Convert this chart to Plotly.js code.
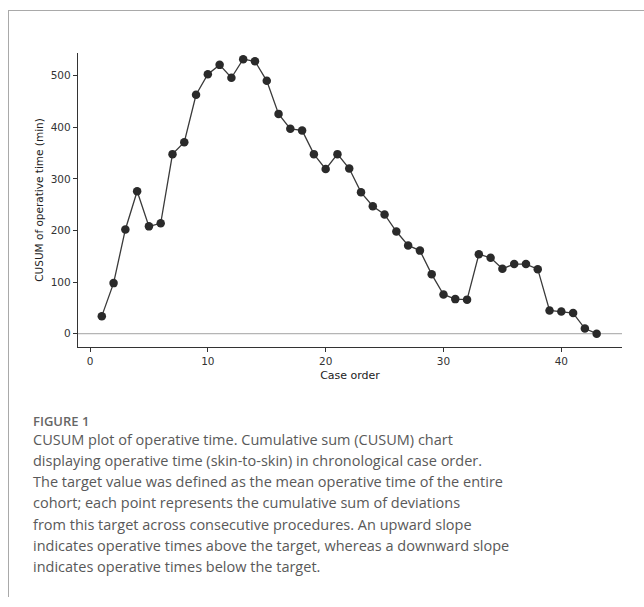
<!DOCTYPE html>
<html>
<head>
<meta charset="utf-8">
<script src="https://cdn.plot.ly/plotly-3.0.1.min.js"></script>
<style>
  html, body { margin: 0; padding: 0; background: #fff; }
  body { width: 644px; height: 607px; position: relative; overflow: hidden; }
  #frame { position: absolute; left: 8px; top: 10px; width: 640px; height: 587px;
           border-top: 1px solid #a9a9a9; border-left: 1px solid #a9a9a9; box-sizing: border-box; }
  #chart { position: absolute; left: 0; top: 0; width: 644px; height: 607px; }
  #figlabel { position: absolute; left: 33px; top: 414px; font-family: "Open Sans", sans-serif;
              font-size: 13px; font-weight: 600; color: #666; line-height: 14px; white-space: nowrap; }
  #caption { position: absolute; left: 33px; top: 428.5px; font-family: "Open Sans", sans-serif;
             font-size: 14.5px; color: #595959; line-height: 21.3px; white-space: nowrap; }
</style>
</head>
<body>
<div id="frame"></div>
<div id="chart"></div>
<div id="figlabel">FIGURE 1</div>
<div id="caption">CUSUM plot of operative time. Cumulative sum (CUSUM) chart<br>displaying operative time (skin-to-skin) in chronological case order.<br>The target value was defined as the mean operative time of the entire<br>cohort; each point represents the cumulative sum of deviations<br>from this target across consecutive procedures. An upward slope<br>indicates operative times above the target, whereas a downward slope<br>indicates operative times below the target.</div>
<script>
const caseOrder = [1,2,3,4,5,6,7,8,9,10,11,12,13,14,15,16,17,18,19,20,21,22,23,24,25,26,27,28,29,30,31,32,33,34,35,36,37,38,39,40,41,42,43];
const cusum = [34,98,202,276,208,214,348,371,463,503,521,496,532,528,490,426,397,394,348,319,348,320,274,247,231,198,171,161,115,76,67,66,154,147,126,135,135,125,45,43,40,10,0];
const xTicks = [0,10,20,30,40];
const yTicks = [0,100,200,300,400,500];
const xTitle = "Case order";
const yTitle = "CUSUM of operative time (min)";

const trace = {
  x: caseOrder, y: cusum, type: 'scatter', mode: 'lines+markers',
  line: {color: '#3a3a3a', width: 1.3},
  marker: {color: '#2a2a2a', size: 8.5},
  hoverinfo: 'x+y', showlegend: false
};
const fam = '"DejaVu Sans", sans-serif';
const axisFont = {family: fam, size: 10.5, color: '#333'};
const layout = {
  width: 644, height: 607,
  margin: {l: 78, r: 22, t: 53, b: 260, pad: 0},
  paper_bgcolor: 'rgba(0,0,0,0)', plot_bgcolor: 'rgba(0,0,0,0)',
  showlegend: false,
  font: {family: fam},
  xaxis: {
    range: [-1.02, 45.15], tickvals: xTicks, ticktext: xTicks.map(String),
    showgrid: false, zeroline: false, showline: true, linecolor: '#333', linewidth: 1.2,
    ticks: 'outside', ticklen: 4, tickwidth: 1, tickcolor: '#333', tickfont: axisFont,
    title: {text: xTitle, font: {family: fam, size: 11, color: '#222'}, standoff: 5},
    automargin: false, fixedrange: true
  },
  yaxis: {
    range: [-25.8, 544], tickvals: yTicks, ticktext: yTicks.map(String),
    showgrid: false, zeroline: false, showline: true, linecolor: '#333', linewidth: 1.2,
    ticks: 'outside', ticklen: 4, tickwidth: 1, tickcolor: '#333', tickfont: axisFont,
    title: {text: yTitle, font: {family: fam, size: 10.5, color: '#222'}, standoff: 5},
    automargin: false, fixedrange: true
  },
  shapes: [{type: 'line', xref: 'paper', x0: 0, x1: 1, yref: 'y', y0: 0, y1: 0,
            line: {color: '#b5b5b5', width: 1.2}, layer: 'below'}]
};
Plotly.newPlot('chart', [trace], layout, {displayModeBar: false, staticPlot: true});
</script>
</body>
</html>
